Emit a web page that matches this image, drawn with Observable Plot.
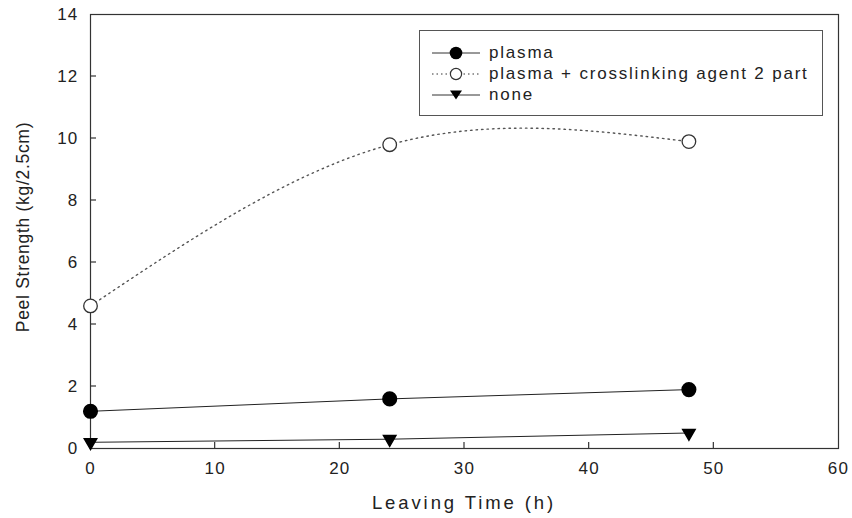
<!DOCTYPE html>
<html>
<head>
<meta charset="utf-8">
<script src="https://cdn.jsdelivr.net/npm/d3@7"></script>
<script src="https://cdn.jsdelivr.net/npm/@observablehq/plot@0.6"></script>
<style>
  body { margin: 0; background: #fff; font-family: "Liberation Sans", Arial, sans-serif; }
  #wrap { position: relative; width: 852px; height: 518px; }
  #wrap svg text { letter-spacing: 1.2px; }
  #legend { position: absolute; left: 419px; top: 30px; width: 404px; height: 86px;
            border: 1px solid #555; box-sizing: border-box; background: #fff;
            font-size: 17px; color: #222; letter-spacing: 1.8px; white-space: nowrap; }
  .row { position: absolute; left: 12px; height: 20px; display: flex; align-items: center; }
  .row svg { margin-right: 9px; }
</style>
</head>
<body>
<div id="wrap"></div>
<script>
const times = [0, 24, 48];
const seriesNames = ["plasma", "plasma + crosslinking agent 2 part", "none"];
const plasmaValues = [1.2, 1.6, 1.9];
const crosslinkValues = [4.6, 9.8, 9.9];
const noneValues = [0.2, 0.3, 0.5];
const xTicks = [0, 10, 20, 30, 40, 50, 60];
const yTicks = [0, 2, 4, 6, 8, 10, 12, 14];
const xTitle = "Leaving Time (h)";
const yTitle = "Peel Strength (kg/2.5cm)";

const mk = (vals, name) => times.map((t, i) => ({time: t, value: vals[i], series: name}));
const plasma = mk(plasmaValues, seriesNames[0]);
const crosslink = mk(crosslinkValues, seriesNames[1]);
const none = mk(noneValues, seriesNames[2]);
const xInner = xTicks.slice(1, -1);
const yInner = yTicks.slice(1, -1);

const ink = "#222";

const chart = Plot.plot({
  width: 852,
  height: 518,
  marginLeft: 90,
  marginRight: 14,
  marginTop: 14,
  marginBottom: 70,
  style: { fontFamily: "Liberation Sans, Arial, sans-serif", color: ink, background: "#fff" },
  x: { domain: [0, 60] },
  y: { domain: [0, 14] },
  marks: [
    Plot.frame({ stroke: "#333", strokeWidth: 1.2 }),
    Plot.axisX({ ticks: xTicks, tickSize: 0, tickPadding: 13, fontSize: 17, label: null }),
    Plot.axisY({ ticks: yTicks, tickSize: 0, tickPadding: 12, fontSize: 17, label: null }),
    Plot.line(plasma, { x: "time", y: "value", stroke: ink, strokeWidth: 1 }),
    Plot.line(crosslink, { x: "time", y: "value", stroke: "#555", strokeWidth: 1.4, strokeDasharray: "1.5,4", curve: "natural" }),
    Plot.line(none, { x: "time", y: "value", stroke: ink, strokeWidth: 1 }),
    Plot.dot(plasma, { x: "time", y: "value", r: 6.8, fill: "#000", stroke: "#000" }),
    Plot.dot(crosslink, { x: "time", y: "value", r: 6.8, fill: "#fff", stroke: "#333", strokeWidth: 1.3 }),
    Plot.dot(none, { x: "time", y: "value", symbol: "triangle", r: 4.6, rotate: 180, fill: "#000", stroke: "#000" })
  ]
});

const wrap = document.getElementById("wrap");
wrap.appendChild(chart);
const svg = chart.tagName.toLowerCase() === "svg" ? chart : chart.querySelector("svg");
const NS = "http://www.w3.org/2000/svg";

// inward ticks, positioned with the chart's own scales
const sx = chart.scale("x"), sy = chart.scale("y");
const xPix = v => sx.apply(v), yPix = v => sy.apply(v);
const tg = document.createElementNS(NS, "g");
tg.setAttribute("stroke", "#333");
tg.setAttribute("stroke-width", "1.2");
xInner.forEach(v => {
  const l = document.createElementNS(NS, "line");
  l.setAttribute("x1", xPix(v)); l.setAttribute("x2", xPix(v));
  l.setAttribute("y1", yPix(0)); l.setAttribute("y2", yPix(0) - 6);
  tg.appendChild(l);
});
yInner.forEach(v => {
  const l = document.createElementNS(NS, "line");
  l.setAttribute("y1", yPix(v)); l.setAttribute("y2", yPix(v));
  l.setAttribute("x1", xPix(0)); l.setAttribute("x2", xPix(0) + 6);
  tg.appendChild(l);
});
svg.appendChild(tg);

// axis titles
const xt = document.createElementNS(NS, "text");
xt.setAttribute("x", (xPix(0) + xPix(60)) / 2);
xt.setAttribute("y", 509);
xt.setAttribute("text-anchor", "middle");
xt.setAttribute("font-size", "18.5");
xt.setAttribute("style", "letter-spacing: 2.9px");
xt.setAttribute("fill", ink);
xt.textContent = xTitle;
svg.appendChild(xt);

const yt = document.createElementNS(NS, "text");
yt.setAttribute("transform", `translate(29,${(yPix(0) + yPix(14)) / 2 - 4}) rotate(-90)`);
yt.setAttribute("text-anchor", "middle");
yt.setAttribute("font-size", "17.5");
yt.setAttribute("style", "letter-spacing: 0.7px");
yt.setAttribute("fill", ink);
yt.textContent = yTitle;
svg.appendChild(yt);

// legend
const legend = document.createElement("div");
legend.id = "legend";
const sym = [
  '<circle cx="24" cy="8" r="6.3" fill="#000"/>',
  '<circle cx="24" cy="8" r="5.6" fill="#fff" stroke="#333" stroke-width="1.2"/>',
  '<path d="M18,3.5 L30,3.5 L24,12.5 Z" fill="#000"/>'
];
const dash = ["", 'stroke-dasharray="1.5,3"', ""];
seriesNames.forEach((name, i) => {
  const row = document.createElement("div");
  row.className = "row";
  row.style.top = (12 + i * 21) + "px";
  row.innerHTML = `<svg width="48" height="16"><line x1="0" y1="8" x2="48" y2="8" stroke="#333" stroke-width="1" ${dash[i]}/>${sym[i]}</svg><span>${name}</span>`;
  legend.appendChild(row);
});
wrap.appendChild(legend);
</script>
</body>
</html>
